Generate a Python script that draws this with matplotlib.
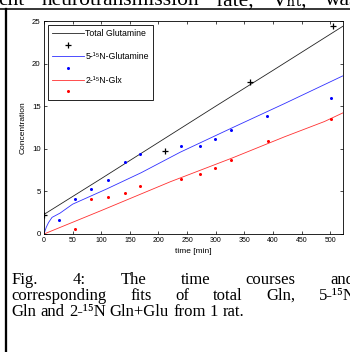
import matplotlib
matplotlib.use("Agg")
import matplotlib.pyplot as plt
from matplotlib.lines import Line2D

W, H = 350, 352

# measured samples (time in min, concentration)
t_total = [0, 212, 360, 505]
c_total = [2.2, 9.7, 17.8, 24.4]

t_gln5 = [27, 55, 82, 111, 141, 168, 239, 272, 299, 326, 389, 502]
c_gln5 = [1.65, 4.15, 5.25, 6.35, 8.4, 9.35, 10.3, 10.3, 11.1, 12.2, 13.9, 16.0]

t_glx = [55, 82, 111, 141, 168, 239, 272, 299, 326, 391, 502]
c_glx = [0.6, 4.05, 4.3, 4.8, 5.6, 6.4, 7.0, 7.8, 8.7, 10.95, 13.45]

# fitted curves
fit_t_total = [0, 100, 200, 300, 400, 525]
fit_total = [2.3, 6.5, 10.75, 15.0, 19.2, 24.5]

fit_t_gln5 = [0, 4, 8, 14, 28, 50, 80, 110, 170, 238, 330, 420, 525]
fit_gln5 = [0, 0.8, 1.35, 1.95, 2.45, 3.5, 4.4, 5.3, 7.2, 9.6, 12.5, 15.3, 18.65]

fit_t_glx = [0, 100, 221, 330, 420, 490, 525]
fit_glx = [0, 2.75, 6.14, 8.95, 11.4, 13.2, 14.3]

x_ticks = [0, 50, 100, 150, 200, 250, 300, 350, 400, 450, 500]
y_ticks = [0, 5, 10, 15, 20, 25]

legend_labels = ["Total Glutamine", "", "5-\u00b9\u2075N-Glutamine", "", "2-\u00b9\u2075N-Glx", ""]

SANS = ["Liberation Sans", "DejaVu Sans"]
SERIF = ["Liberation Serif", "DejaVu Serif"]

plt.rcParams.update({
    "font.family": SANS,
    "axes.linewidth": 0.6,
    "xtick.direction": "in",
    "ytick.direction": "in",
    "xtick.major.size": 2.2,
    "ytick.major.size": 2.2,
    "xtick.major.width": 0.5,
    "ytick.major.width": 0.5,
})


def fx(px):
    return px / W


def fy(py):
    return 1 - py / H


fig = plt.figure(figsize=(W / 100, H / 100), dpi=100)
renderer = fig.canvas.get_renderer()

ax = fig.add_axes([fx(44), fy(234), 299.3 / W, 213 / H])
ax.plot(fit_t_total, fit_total, color="#222222", lw=0.6)
ax.plot(t_total, c_total, ls="none", marker="+", color="k", ms=4, mew=0.9)
ax.plot(fit_t_gln5, fit_gln5, color="#3030ff", lw=0.6)
ax.plot(t_gln5, c_gln5, ls="none", marker="o", color="#0000ff", ms=2.2, mew=0)
ax.plot(fit_t_glx, fit_glx, color="#ff3030", lw=0.6)
ax.plot(t_glx, c_glx, ls="none", marker="o", color="#ff0000", ms=2.2, mew=0)

ax.set_xlim(0, 523)
ax.set_ylim(0, 25)
ax.set_xticks(x_ticks)
ax.set_yticks(y_ticks)
ax.tick_params(top=True, right=True)
ax.tick_params(axis="x", labelsize=5.0, pad=2.5)
ax.tick_params(axis="y", labelsize=5.6, pad=2.5)
ax.set_xlabel("time [min]", fontsize=6.0, labelpad=2.5)
ax.set_ylabel("Concentration", fontsize=6.0, labelpad=4)

handles = [
    Line2D([], [], color="#222222", lw=0.6),
    Line2D([], [], ls="none", marker="+", color="k", ms=4, mew=0.9),
    Line2D([], [], color="#3030ff", lw=0.6),
    Line2D([], [], ls="none", marker="o", color="#0000ff", ms=2.2, mew=0),
    Line2D([], [], color="#ff3030", lw=0.6),
    Line2D([], [], ls="none", marker="o", color="#ff0000", ms=2.2, mew=0),
]
leg = ax.legend(handles, legend_labels, loc="upper left",
                bbox_to_anchor=(0.0144, 0.981), borderaxespad=0,
                fontsize=6.3, handlelength=3.6, handletextpad=0.2,
                borderpad=0.45, labelspacing=0.31, fancybox=False,
                framealpha=1)
leg.get_frame().set_edgecolor("k")
leg.get_frame().set_linewidth(0.6)

# page furniture around the figure
fig.add_artist(Line2D([0, 1], [fy(9.2), fy(9.2)], color="k", lw=1.1))
fig.add_artist(Line2D([fx(6.2), fx(6.2)], [0, fy(9.2)], color="k", lw=1.65))


def line_of_words(words, left, base, right=None, size=12):
    """Place words on one baseline; spread them out to `right` if given."""
    texts = [fig.text(0, fy(base), w, fontsize=size, family=SERIF,
                      va="baseline") for w in words]
    widths = [t.get_window_extent(renderer).width for t in texts]
    space = size * 100 / 72 * 0.25
    if right is not None and len(words) > 1:
        space = (right - left - sum(widths)) / (len(words) - 1)
    x = left
    for t, w in zip(texts, widths):
        t.set_x(fx(x))
        x += w + space


line_of_words(["ent", "neurotransmission", "rate,", "V\u2099\u209c,", "was"],
              -2, 5.3, right=358, size=15.5)
line_of_words(["Fig.", "4:", "The", "time", "courses", "and"],
              11.7, 284, right=354)
line_of_words(["corresponding", "fits", "of", "total", "Gln,", "5-\u00b9\u2075N"],
              11.7, 300, right=356)
line_of_words(["Gln", "and", "2-\u00b9\u2075N", "Gln+Glu", "from", "1", "rat."],
              11.7, 316)

fig.savefig("out.png", dpi=100)
